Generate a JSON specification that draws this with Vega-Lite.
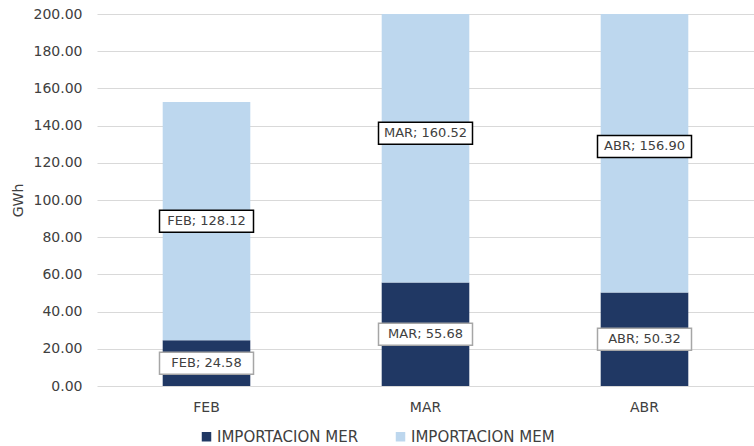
{
  "$schema": "https://vega.github.io/schema/vega-lite/v6.json",
  "width": 657,
  "height": 372,
  "autosize": {"type": "none"},
  "padding": {"left": 97, "top": 14, "right": 0, "bottom": 60},
  "background": "white",
  "config": {"font": "DejaVu Sans", "view": {"stroke": null}},
  "data": {
    "values": [
      {"mes": "FEB", "serie": "IMPORTACION MER", "valor": 24.58},
      {"mes": "FEB", "serie": "IMPORTACION MEM", "valor": 128.12},
      {"mes": "MAR", "serie": "IMPORTACION MER", "valor": 55.68},
      {"mes": "MAR", "serie": "IMPORTACION MEM", "valor": 160.52},
      {"mes": "ABR", "serie": "IMPORTACION MER", "valor": 50.32},
      {"mes": "ABR", "serie": "IMPORTACION MEM", "valor": 156.90}
    ]
  },
  "encoding": {
    "x": {
      "field": "mes",
      "type": "nominal",
      "sort": ["FEB", "MAR", "ABR"],
      "scale": {"paddingInner": 0.6, "paddingOuter": 0.3},
      "axis": {
        "title": null,
        "labelAngle": 0,
        "domain": false,
        "ticks": false,
        "grid": false,
        "labelPadding": 14,
        "labelFontSize": 14,
        "labelColor": "#404040"
      }
    }
  },
  "resolve": {"axis": {"y": "independent"}},
  "layer": [
    {
      "mark": {"type": "bar", "clip": true},
      "encoding": {
        "y": {
          "field": "valor",
          "type": "quantitative",
          "stack": "zero",
          "scale": {"domain": [0, 200], "nice": false},
          "axis": {
            "title": "GWh",
            "format": ".2f",
            "values": [0, 20, 40, 60, 80, 100, 120, 140, 160, 180, 200],
            "labelOverlap": false,
            "domain": false,
            "ticks": false,
            "labelPadding": 15,
            "gridColor": "#d9d9d9",
            "labelFontSize": 14,
            "labelColor": "#404040",
            "titleFontSize": 14,
            "titleFontWeight": "normal",
            "titleColor": "#404040",
            "titlePadding": 8
          }
        },
        "color": {
          "field": "serie",
          "type": "nominal",
          "scale": {
            "domain": ["IMPORTACION MER", "IMPORTACION MEM"],
            "range": ["#203864", "#BDD7EE"]
          },
          "legend": {
            "title": null,
            "orient": "none",
            "legendX": 102,
            "legendY": 415,
            "direction": "horizontal",
            "symbolType": "square",
            "symbolSize": 90,
            "symbolStrokeWidth": 0,
            "labelFontSize": 15,
            "labelColor": "#404040",
            "columnPadding": 34,
            "labelOffset": 3
          }
        },
        "order": {"field": "serie", "sort": "descending"}
      }
    },
    {
      "transform": [
        {
          "stack": "valor",
          "groupby": ["mes"],
          "sort": [{"field": "serie", "order": "descending"}],
          "as": ["v0", "v1"]
        },
        {"calculate": "(datum.v0 + datum.v1) / 2", "as": "medio"},
        {"calculate": "datum.mes + '; ' + format(datum.valor, '.2f')", "as": "etiqueta"}
      ],
      "layer": [
        {
          "mark": {
            "type": "point",
            "shape": "M-1,-0.234H1V0.234H-1Z",
            "size": 8836,
            "filled": true,
            "fill": "white",
            "opacity": 1,
            "strokeWidth": 1.5
          },
          "encoding": {
            "y": {"field": "medio", "type": "quantitative", "axis": null},
            "stroke": {
              "field": "serie",
              "type": "nominal",
              "scale": {
                "domain": ["IMPORTACION MER", "IMPORTACION MEM"],
                "range": ["#a6a6a6", "#000000"]
              },
              "legend": null
            }
          }
        },
        {
          "mark": {"type": "text", "fontSize": 13, "color": "#404040"},
          "encoding": {
            "y": {"field": "medio", "type": "quantitative", "axis": null},
            "text": {"field": "etiqueta"}
          }
        }
      ]
    }
  ]
}
